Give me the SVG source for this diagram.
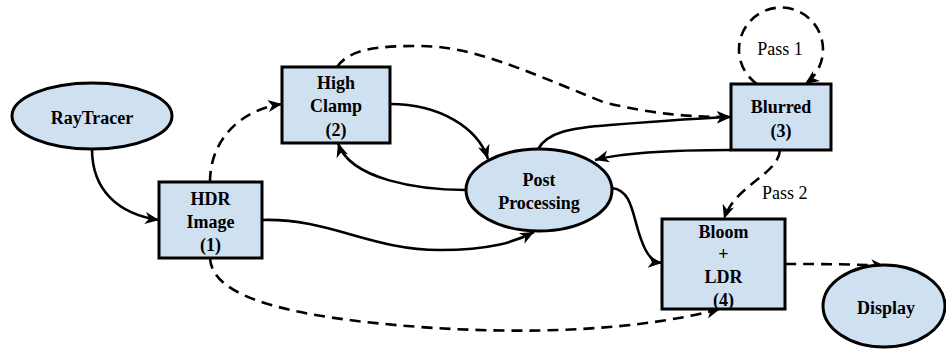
<svg xmlns="http://www.w3.org/2000/svg" width="946" height="349" viewBox="0 0 946 349" font-family="Liberation Serif, Times New Roman, serif">
<style>
.node{fill:#cfe0f1;stroke:#000;stroke-width:3}
.lbl{font-weight:bold;font-size:18px;text-anchor:middle;fill:#000}
.elbl{font-size:18px;fill:#000}
.e{fill:none;stroke:#000;stroke-width:2.6}
.d{stroke-dasharray:11,7}
</style>
<defs>
<marker id="ah" markerUnits="userSpaceOnUse" markerWidth="16" markerHeight="12" refX="14" refY="6" orient="auto" overflow="visible">
<path d="M0,0 L14,6 L0,12 L4,6 Z" fill="#000"/>
</marker>
</defs>
<rect width="946" height="349" fill="#fff"/>
<g id="connectors">
<path class="e" d="M92,149 C92,190 118,214 159,220" marker-end="url(#ah)"/>
<path class="e d" d="M210,182 C210,140 240,110 282,104" marker-end="url(#ah)"/>
<path class="e" d="M262,220 C330,218 370,250 440,250 C490,250 515,242 534,232" marker-end="url(#ah)"/>
<path class="e" d="M390,104 C440,104 478,128 488,159" marker-end="url(#ah)"/>
<path class="e" d="M466,190 C420,190 350,180 338,143" marker-end="url(#ah)"/>
<path class="e d" d="M337,67 C350,48 380,46 420,46 C470,46 520,68 603,102 C650,114 690,117 731,117" marker-end="url(#ah)"/>
<path class="e" d="M538,149 C548,132 570,128 610,125 C660,121 700,118 731,117" marker-end="url(#ah)"/>
<path class="e" d="M731,150 C680,150 625,152 595,160" marker-end="url(#ah)"/>
<path class="e" d="M612,188 C630,190 632,210 638,230 C644,250 650,262 662,263" marker-end="url(#ah)"/>
<path class="e d" d="M757,84 A42,42 0 1 1 805,84" marker-end="url(#ah)"/>
<path class="e d" d="M780,150 C778,175 735,185 724,219" marker-end="url(#ah)"/>
<path class="e d" d="M210,258 C212,300 300,318 420,327 C560,337 660,325 720,309" marker-end="url(#ah)"/>
<path class="e d" d="M785,264 C820,264 850,264 885,266" marker-end="url(#ah)"/>
<text class="elbl" x="780" y="55" text-anchor="middle">Pass 1</text>
<text class="elbl" x="762" y="199">Pass 2</text>
</g>
<g id="raytracer">
<ellipse class="node" cx="92" cy="116" rx="80" ry="33"/>
<text class="lbl" x="92" y="124">RayTracer</text>
</g>
<g id="hdr">
<rect class="node" x="159" y="182" width="103" height="76"/>
<text class="lbl" x="210.5" y="205">HDR</text>
<text class="lbl" x="210.5" y="228">Image</text>
<text class="lbl" x="210.5" y="251">(1)</text>
</g>
<g id="highclamp">
<rect class="node" x="282" y="67" width="108" height="76"/>
<text class="lbl" x="336" y="89">High</text>
<text class="lbl" x="336" y="112">Clamp</text>
<text class="lbl" x="336" y="136">(2)</text>
</g>
<g id="post">
<ellipse class="node" cx="539" cy="190" rx="73" ry="41"/>
<text class="lbl" x="539" y="186">Post</text>
<text class="lbl" x="539" y="209">Processing</text>
</g>
<g id="blurred">
<rect class="node" x="731" y="84" width="100" height="66"/>
<text class="lbl" x="781" y="113">Blurred</text>
<text class="lbl" x="781" y="137">(3)</text>
</g>
<g id="bloom">
<rect class="node" x="662" y="219" width="123" height="90"/>
<text class="lbl" x="723.5" y="238">Bloom</text>
<text class="lbl" x="723.5" y="260">+</text>
<text class="lbl" x="723.5" y="283">LDR</text>
<text class="lbl" x="723.5" y="306">(4)</text>
</g>
<g id="display">
<ellipse class="node" cx="884" cy="306" rx="61" ry="41"/>
<text class="lbl" x="886" y="314">Display</text>
</g>
</svg>
